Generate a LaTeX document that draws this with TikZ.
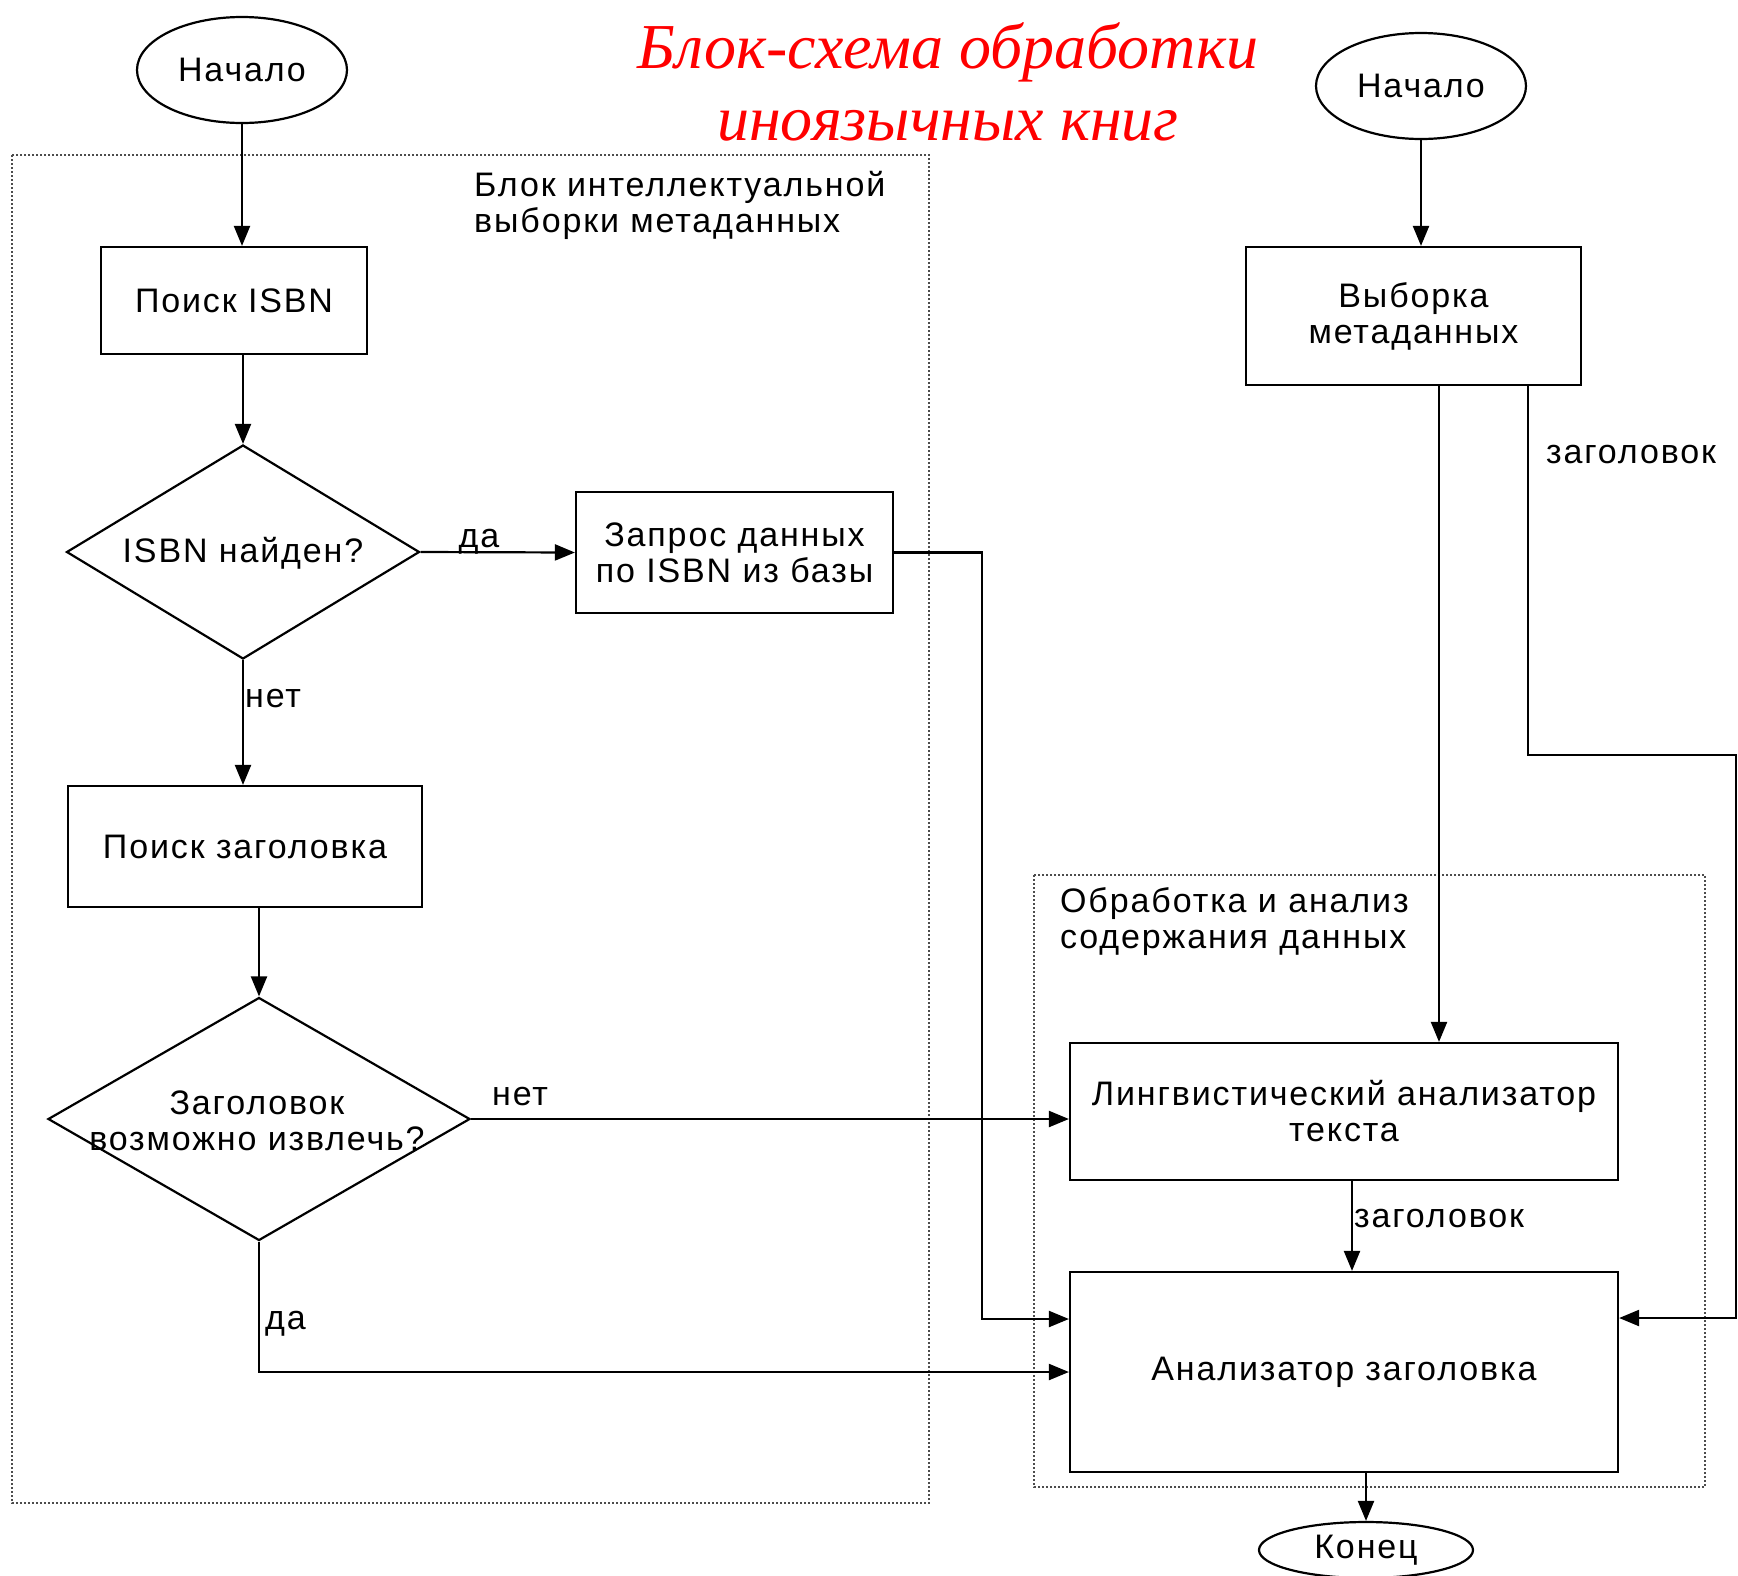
\documentclass[tikz,border=0pt]{standalone}
\usepackage{fontspec}
\setmainfont{Liberation Sans}[LetterSpace=5.5]
\newfontfamily\titlefont{Liberation Serif}
\usetikzlibrary{shapes.geometric,arrows.meta}
\begin{document}
\begin{tikzpicture}[x=1pt,y=-1pt,
  arr/.style={line width=2.2pt,-{Triangle[length=20pt,width=16pt]}},
  box/.style={draw,line width=2.2pt,rectangle,inner sep=0pt,align=center,font=\fontsize{34}{36}\selectfont},
  term/.style={draw,line width=2.2pt,ellipse,inner sep=0pt,font=\fontsize{34}{36}\selectfont},
  dia/.style={draw,line width=2.2pt,diamond,inner sep=0pt},
  txt/.style={inner sep=0pt,align=center,font=\fontsize{34}{36}\selectfont},
  group/.style={draw=black!70,dotted,line width=2pt},
  ttl/.style={inner sep=0pt,anchor=base,text=red,font=\titlefont\itshape\fontsize{64}{72}\selectfont},
]
\useasboundingbox[fill=white] (0,0) rectangle (1738,1575);
% groups
\draw[group] (12,155) rectangle (929,1503);
\draw[group] (1034,875) rectangle (1705,1487);
\node[txt,align=left,anchor=west] (gl1) at (474,205) {Блок интеллектуальной\\выборки метаданных};
\node[txt,align=left,anchor=west] (gl2) at (1060,922) {Обработка и анализ\\содержания данных};
% title
\node[ttl] (t1) at (948,68) {Блок-схема обработки};
\node[ttl] (t2) at (948,140) {иноязычных книг};
% nodes
\node[term,minimum width=210pt,minimum height=106pt] (s1) at (242,70) {Начало};
\node[box,minimum width=266pt,minimum height=107pt] (isbn) at (234,300.5) {Поиск ISBN};
\node[dia,shape aspect=1.65,minimum width=353pt,minimum height=214pt] (d1) at (243,552) {};
\node[txt] (d1t) at (243,553) {ISBN найден?};
\node[box,minimum width=317pt,minimum height=121pt] (zap) at (734.5,552.5) {Запрос данных\\по ISBN из базы};
\node[box,minimum width=354pt,minimum height=121pt] (p2) at (245,846.5) {Поиск заголовка};
\node[dia,shape aspect=1.74,minimum width=422pt,minimum height=243pt] (d2) at (259,1119) {};
\node[txt] (d2t) at (257,1121) {Заголовок\\возможно извлечь?};
\node[term,minimum width=210pt,minimum height=106pt] (s2) at (1421,86) {Начало};
\node[box,minimum width=335pt,minimum height=138pt] (vyb) at (1413.5,316) {Выборка\\метаданных};
\node[box,minimum width=548pt,minimum height=137pt] (ling) at (1344,1111.5) {Лингвистический анализатор\\текста};
\node[box,minimum width=548pt,minimum height=200pt] (an) at (1344,1372) {Анализатор заголовка};
\node[term,minimum width=214pt,minimum height=56pt] (end) at (1366,1550) {Конец};
% labels
\node[txt] (lda1) at (479,542) {да};
\node[txt,anchor=west] (lnet1) at (245,699) {нет};
\node[txt,anchor=west] (lnet2) at (492,1097) {нет};
\node[txt,anchor=west] (lda2) at (265,1324) {да};
\node[txt,anchor=west] (lz1) at (1546,455) {заголовок};
\node[txt,anchor=west] (lz2) at (1354,1219) {заголовок};
% coordinates
\coordinate (c1) at (982,1319);
\coordinate (va) at (1439,0);
\coordinate (vb) at (1528,755);
\coordinate (vc) at (1736,1318);
\coordinate (lx) at (1352,0);
% connectors
\draw[arr] (s1.south) -- (s1.south |- isbn.north);
\draw[arr] (isbn.south -| d1.north) -- (d1.north);
\draw[arr] (d1.east) -- (zap.west);
\draw[arr] (d1.south) -- (d1.south |- p2.north);
\draw[arr] (p2.south -| d2.north) -- (d2.north);
\draw[arr] (d2.east) -- (d2.east -| ling.west);
\draw[arr] (d2.south) |- (an.west);
\draw[arr] (zap.east) -| (c1) -- (c1 -| an.west);
\draw[arr] (s2.south) -- (s2.south |- vyb.north);
\draw[arr] (va |- vyb.south) -- (va |- ling.north);
\draw[arr] (vb |- vyb.south) -- (vb) -| (vc) -- (vc -| an.east);
\draw[arr] (lx |- ling.south) -- (lx |- an.north);
\draw[arr] (an.south -| end.north) -- (end.north);
\end{tikzpicture}
\end{document}
